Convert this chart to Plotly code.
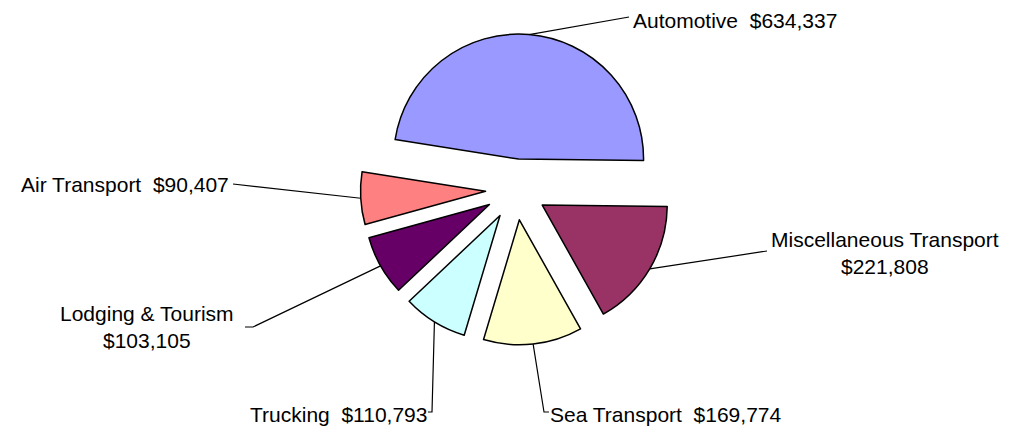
import math
import plotly.graph_objects as go

# ---- data ----
categories = ["Automotive", "Miscellaneous Transport", "Sea Transport",
              "Trucking", "Lodging & Tourism", "Air Transport"]
values = [634337, 221808, 169774, 110793, 103105, 90407]
colors = ["#9999FF", "#993366", "#FFFFCC", "#CCFFFF", "#660066", "#FF8080"]

# ---- layout constants (pixels, in the page) ----
W, H = 1010, 429
OFF = 8                 # page body margin offset
CX, CY = 516, 189.5     # pie centre
R = 125                 # pie radius
PULL = 0.244            # explosion, fraction of radius
ROT = -81               # start angle of first slice (clockwise from 12 o'clock)
EXT = R * (1 + PULL)

def px(x):
    return (x - OFF) / W

def py(y):
    return 1 - (y - OFF) / H

fig = go.Figure(go.Pie(
    labels=categories, values=values, sort=False, direction="clockwise",
    rotation=ROT, pull=[PULL] * len(values),
    marker=dict(colors=colors, line=dict(color="black", width=1.5)),
    textinfo="none", showlegend=False, hoverinfo="label+value",
    domain=dict(x=[px(CX - EXT), px(CX + EXT)], y=[py(CY + EXT), py(CY - EXT)]),
))

# label text placement (pixels): x, y, xanchor
label_pos = {
    "Automotive": (631, 20, "left"),
    "Miscellaneous Transport": (885, 253, "center"),
    "Sea Transport": (548, 414, "left"),
    "Trucking": (429, 414, "right"),
    "Lodging & Tourism": (147, 327, "center"),
    "Air Transport": (231, 184, "right"),
}
# leader-line bend points (pixels), from slice edge toward label
leader_pts = {
    "Automotive": [(629, 17)],
    "Miscellaneous Transport": [(767, 251)],
    "Sea Transport": [(544, 412), (549, 412)],
    "Trucking": [(432, 412), (428, 412)],
    "Lodging & Tourism": [(253, 327), (245, 327)],
    "Air Transport": [(233, 184)],
}
two_line = {"Miscellaneous Transport", "Lodging & Tourism"}

total = sum(values)
start = ROT
shapes = []
annotations = []
for cat, v in zip(categories, values):
    span = 360 * v / total
    mid = math.radians(start + span / 2)
    start += span
    ex = CX + EXT * math.sin(mid)
    ey = CY - EXT * math.cos(mid)
    pts = [(ex, ey)] + leader_pts[cat]
    path = "M " + " L ".join(f"{px(x):.5f},{py(y):.5f}" for x, y in pts)
    shapes.append(dict(type="path", xref="paper", yref="paper", path=path,
                       line=dict(color="black", width=1.2)))
    money = f"${v:,}"
    text = f"{cat}<br>{money}" if cat in two_line else f"{cat}\u00a0 {money}"
    lx, ly, anc = label_pos[cat]
    annotations.append(dict(x=px(lx), y=py(ly), xref="paper", yref="paper",
                            text=text, showarrow=False, xanchor=anc,
                            yanchor="middle", align="center",
                            font=dict(size=21, color="black")))

fig.update_layout(
    width=W, height=H, margin=dict(l=0, r=0, t=0, b=0),
    paper_bgcolor="white", plot_bgcolor="white",
    font=dict(family="Liberation Sans, Arial, sans-serif", color="black"),
    shapes=shapes, annotations=annotations,
)

fig.write_html("out.html")
